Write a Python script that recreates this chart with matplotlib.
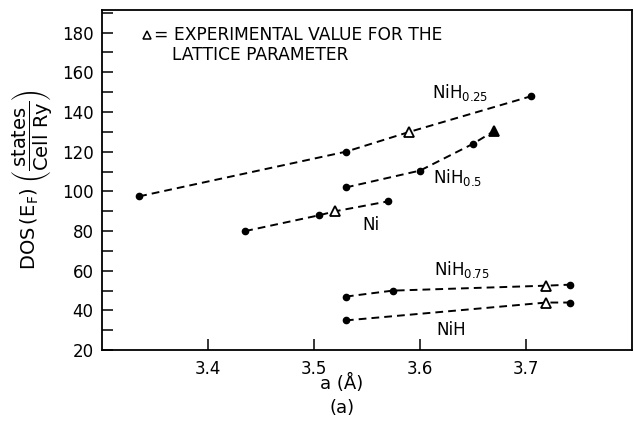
import matplotlib.pyplot as plt
from matplotlib.ticker import MultipleLocator

# computed DOS(E_F) vs lattice parameter, one series per hydrogen content
ni_a = [3.435, 3.505, 3.57]
ni_dos = [80, 88, 95]
ni_exp = (3.52, 90)

nih025_a = [3.335, 3.53, 3.705]
nih025_dos = [97.5, 120, 148]
nih025_exp = (3.59, 130)

nih05_a = [3.53, 3.60, 3.65]
nih05_dos = [102, 110.5, 124]
nih05_exp_filled = (3.67, 130.5)

nih075_a = [3.53, 3.574, 3.741]
nih075_dos = [47, 50, 53]
nih075_exp = (3.719, 52.5)

nih_a = [3.53, 3.741]
nih_dos = [35, 44]
nih_exp = (3.719, 44)

fig = plt.figure(figsize=(6.34, 4.26), dpi=100)
ax = fig.add_axes([0.161, 0.178, 0.836, 0.799])

dash = (0, (4, 2.6))
lw = 1.4


def series(xs, ys, tri=None, filled=False):
    # dashed curve through dots, triangle merged in by x order
    pts = list(zip(xs, ys))
    if tri is not None:
        pts.append(tri)
    pts.sort()
    ax.plot([p[0] for p in pts], [p[1] for p in pts], color='k',
            linestyle=dash, linewidth=lw)
    ax.plot(xs, ys, 'o', color='k', markersize=4.5)
    if tri is not None:
        ax.plot(tri[0], tri[1], '^', markersize=7.5, markeredgewidth=1.3,
                markeredgecolor='k', markerfacecolor='k' if filled else 'white')


series(nih025_a, nih025_dos, nih025_exp)
series(nih05_a, nih05_dos, nih05_exp_filled, filled=True)
series(ni_a, ni_dos, ni_exp)
series(nih075_a, nih075_dos, nih075_exp)
series(nih_a, nih_dos, nih_exp)

fs = 12
ax.text(3.611, 150, r'NiH$_{0.25}$', fontsize=fs, va='center')
ax.text(3.612, 107, r'NiH$_{0.5}$', fontsize=fs, va='center')
ax.text(3.546, 83, 'Ni', fontsize=fs, va='center')
ax.text(3.613, 60.5, r'NiH$_{0.75}$', fontsize=fs, va='center')
ax.text(3.615, 30, 'NiH', fontsize=fs, va='center')

ax.plot(3.342, 179, '^', markersize=6, markeredgewidth=1.1,
        markeredgecolor='k', markerfacecolor='white')
ax.text(3.349, 179, '= EXPERIMENTAL VALUE FOR THE', fontsize=12.3, va='center')
ax.text(3.366, 168.5, 'LATTICE PARAMETER', fontsize=12.3, va='center')

ax.set_xlim(3.3, 3.8)
ax.set_ylim(20, 191.5)
ax.set_xticks([3.4, 3.5, 3.6, 3.7])
ax.yaxis.set_major_locator(MultipleLocator(20))
ax.yaxis.set_minor_locator(MultipleLocator(10))
ax.set_yticks(range(20, 181, 20))
ax.tick_params(which='both', direction='in', labelsize=fs, width=1.1)
ax.tick_params(which='major', length=8, pad=6)
ax.tick_params(which='minor', length=8)
ax.tick_params(axis='x', pad=7)
for s in ax.spines.values():
    s.set_linewidth(1.3)

fig.text(342 / 634, 1 - 383 / 426, 'a (Å)', fontsize=fs + 1, ha='center', va='center')
fig.text(342 / 634, 1 - 408 / 426, '(a)', fontsize=fs + 1, ha='center', va='center')
ax.set_ylabel(r'DOS$\,(\mathrm{E_F})\;\left(\dfrac{\mathrm{states}}{\mathrm{Cell\ Ry}}\right)$',
              fontsize=14, labelpad=6)

fig.savefig('out.png', dpi=100)
